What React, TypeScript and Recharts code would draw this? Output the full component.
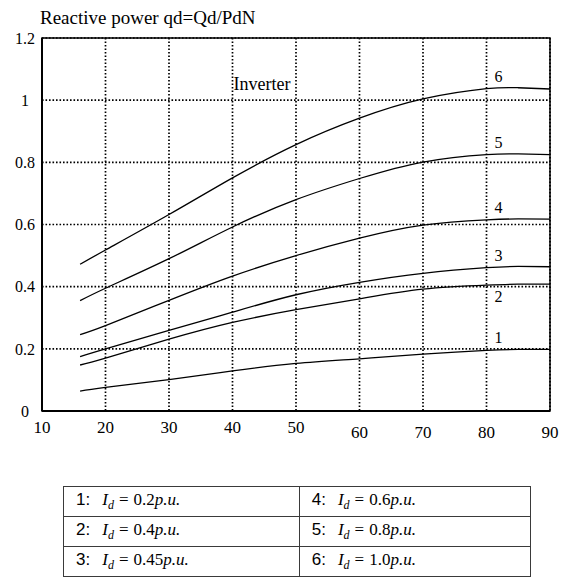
import React from 'react';
import { LineChart, Line, XAxis, YAxis, CartesianGrid, ReferenceArea, ReferenceDot } from 'recharts';

// Firing angle (deg) sample points along each curve
const angles = [16, 20, 30, 40, 50, 60, 70, 80, 85, 90];

// Reactive power qd = Qd/PdN for each DC current level
const q1 = [0.064, 0.076, 0.101, 0.129, 0.153, 0.168, 0.183, 0.195, 0.198, 0.198];
const q2 = [0.148, 0.170, 0.231, 0.285, 0.326, 0.361, 0.392, 0.405, 0.408, 0.408];
const q3 = [0.175, 0.200, 0.259, 0.318, 0.374, 0.414, 0.443, 0.461, 0.465, 0.464];
const q4 = [0.246, 0.275, 0.356, 0.434, 0.500, 0.556, 0.598, 0.615, 0.618, 0.617];
const q5 = [0.355, 0.395, 0.490, 0.592, 0.680, 0.748, 0.801, 0.825, 0.827, 0.825];
const q6 = [0.472, 0.518, 0.632, 0.750, 0.857, 0.942, 1.004, 1.037, 1.040, 1.036];

const curveIds = ['1', '2', '3', '4', '5', '6'];
const currents = ['0.2', '0.4', '0.45', '0.6', '0.8', '1.0'];

const xTicks = [10, 20, 30, 40, 50, 60, 70, 80, 90];
const yTicks = [0, 0.2, 0.4, 0.6, 0.8, 1, 1.2];
const yTickLabels = ['0', '0.2', '0.4', '0.6', '0.8', '1', '1.2'];

const title = 'Reactive power qd=Qd/PdN';
const modeLabel = 'Inverter';
const labelAngle = 80;

const series = [q1, q2, q3, q4, q5, q6];
const rows = angles.map((angle, i) => {
  const row: Record<string, number> = { angle };
  series.forEach((s, k) => {
    row['c' + (k + 1)] = s[i];
  });
  return row;
});

const serif = '"Liberation Serif", "Times New Roman", serif';
const sans = '"Liberation Sans", Arial, sans-serif';

const XTick = (props: any) => {
  const { x, y, payload } = props;
  const drop = payload.value >= 60 ? 5 : 0;
  return (
    <text x={x} y={y + 14 + drop} textAnchor="middle" fontFamily={serif} fontSize={17} fill="#000">
      {payload.value}
    </text>
  );
};

const YTick = (props: any) => {
  const { y, payload } = props;
  const idx = yTicks.indexOf(payload.value);
  return (
    <text x={25} y={y} dy="0.36em" textAnchor="middle" fontFamily={serif} fontSize={16} fill="#000">
      {yTickLabels[idx]}
    </text>
  );
};

const curveLabel = (id: string, below: boolean) => (props: any) => {
  const { x, y, index } = props;
  if (angles[index] !== labelAngle) return null;
  return (
    <text
      key={'lbl' + id}
      x={x + 8}
      y={below ? y + 17 : y - 7}
      fontFamily={serif}
      fontSize={16}
      fill="#000"
    >
      {id}
    </text>
  );
};

const InverterLabel = (props: any) => {
  const { viewBox } = props;
  return (
    <text x={viewBox.x + 1} y={viewBox.y - 10} fontFamily={serif} fontSize={18} fill="#000">
      {modeLabel}
    </text>
  );
};

const cell: React.CSSProperties = {
  border: '1.5px solid #3a3a3a',
  padding: '0 0 0 12px',
  height: 29,
  fontSize: 17,
  whiteSpace: 'nowrap',
};

const LegendEntry = ({ i }: { i: number }) => (
  <>
    <span style={{ fontFamily: sans }}>{curveIds[i]}:</span>
    <span style={{ fontFamily: serif, marginLeft: 12 }}>
      <i>I</i>
      <sub style={{ fontSize: 12, fontStyle: 'italic', verticalAlign: '-4px' }}>d</sub>
      <span style={{ marginLeft: 5 }}>=</span>
      <span style={{ marginLeft: 5 }}>{currents[i]}</span>
      <i>p.u.</i>
    </span>
  </>
);

export default function App() {
  return (
    <div style={{ position: 'absolute', left: 0, top: 0, width: 569, height: 578, background: '#fff' }}>
      <div
        style={{
          position: 'absolute',
          left: 40,
          top: 8,
          fontFamily: serif,
          fontSize: 19,
          lineHeight: '19px',
          color: '#000',
          whiteSpace: 'nowrap',
        }}
      >
        {title}
      </div>
      <div style={{ position: 'absolute', left: 0, top: 0 }}>
        <LineChart width={569} height={460} data={rows} margin={{ top: 38, right: 19, bottom: 19, left: 0 }}>
          <CartesianGrid
            stroke="#000"
            strokeDasharray="1.6 1.9"
            strokeWidth={1.7}
            horizontalValues={yTicks}
            verticalValues={xTicks}
          />
          <XAxis
            dataKey="angle"
            type="number"
            domain={[10, 90]}
            ticks={xTicks}
            interval={0}
            height={30}
            tickLine={false}
            axisLine={{ stroke: '#000', strokeWidth: 2 }}
            tick={<XTick />}
          />
          <YAxis
            type="number"
            domain={[0, 1.2]}
            ticks={yTicks}
            interval={0}
            width={42}
            tickLine={false}
            axisLine={{ stroke: '#000', strokeWidth: 2 }}
            tick={<YTick />}
          />
          <ReferenceArea x1={10} x2={90} y1={0} y2={1.2} fill="none" stroke="#000" strokeWidth={1.5} />
          <ReferenceDot x={40} y={1} r={0} fill="none" stroke="none" label={<InverterLabel />} />
          {curveIds.map((id, k) => (
            <Line
              key={id}
              type="natural"
              dataKey={'c' + id}
              stroke="#000"
              strokeWidth={1.3}
              dot={false}
              isAnimationActive={false}
              label={curveLabel(id, k === 1)}
            />
          ))}
        </LineChart>
      </div>
      <table
        style={{
          position: 'absolute',
          left: 63,
          top: 486,
          width: 468,
          borderCollapse: 'collapse',
          color: '#000',
        }}
      >
        <tbody>
          {[0, 1, 2].map((r) => (
            <tr key={r}>
              <td style={{ ...cell, width: 236 }}>
                <LegendEntry i={r} />
              </td>
              <td style={{ ...cell, width: 232 }}>
                <LegendEntry i={r + 3} />
              </td>
            </tr>
          ))}
        </tbody>
      </table>
    </div>
  );
}
